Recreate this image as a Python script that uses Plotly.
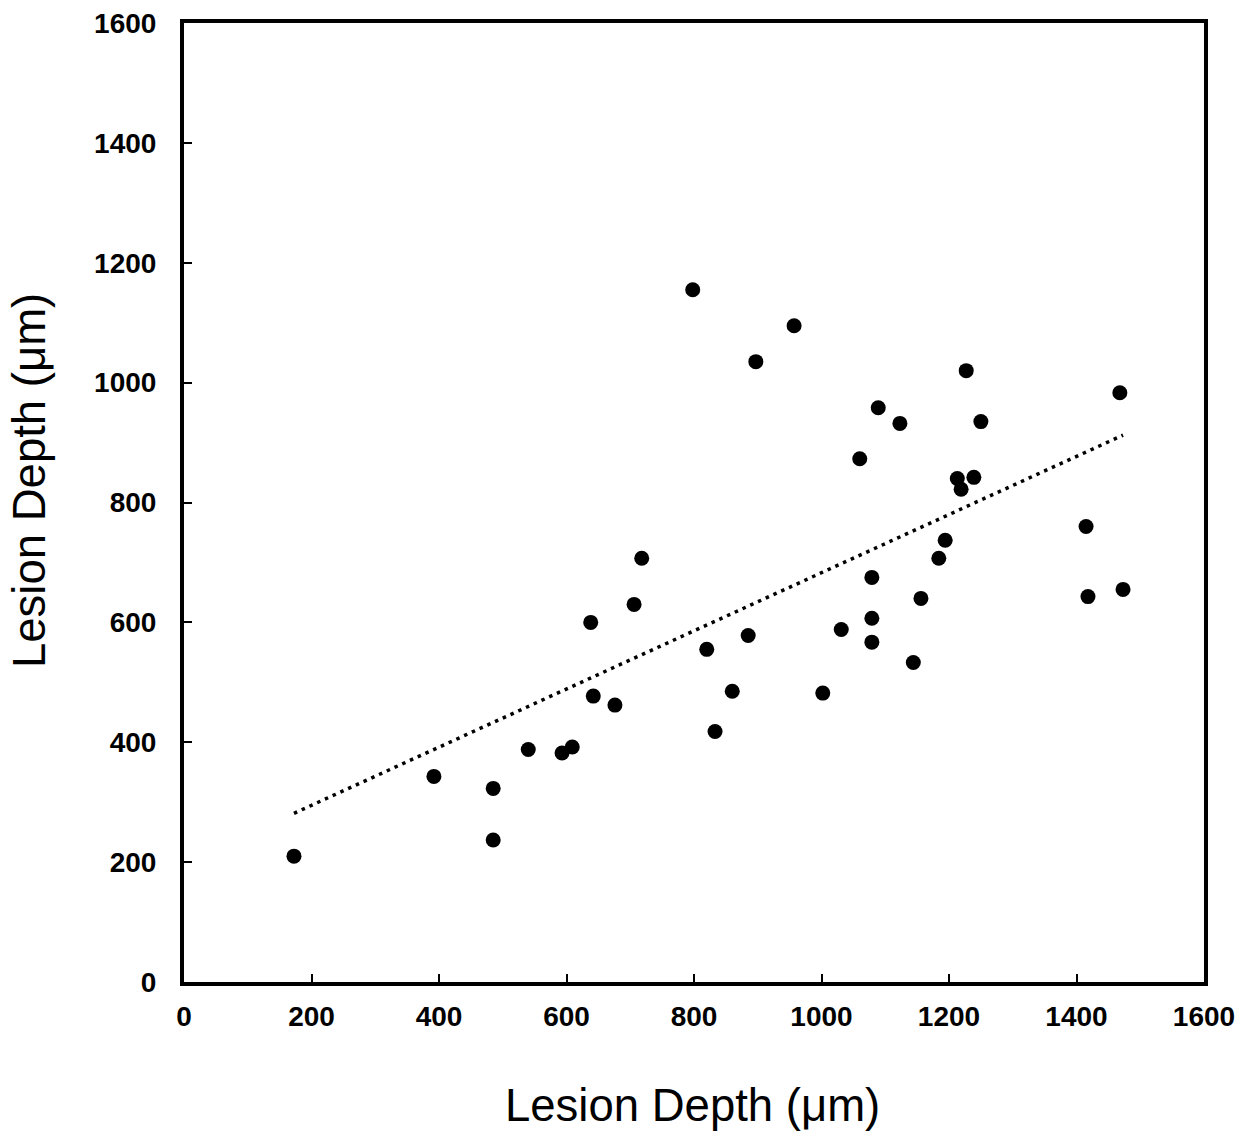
import numpy as np
import plotly.graph_objects as go

x_vals = [172.5, 392, 485, 485, 540, 593, 609, 638, 642, 676, 706, 718, 798, 820, 833,
          860, 885, 897, 957, 1002, 1031, 1060, 1079, 1079, 1079, 1089, 1123, 1144, 1156,
          1184, 1194, 1213, 1219, 1227, 1239, 1250, 1415, 1418, 1468, 1473]
y_vals = [210, 343, 323, 237, 388, 382, 392, 600, 477, 462, 630, 707, 1155, 555, 418,
          485, 578, 1035, 1095, 482, 588, 873, 675, 607, 567, 958, 932, 533, 640,
          707, 737, 840, 822, 1020, 842, 935, 760, 643, 983, 655]
tick_vals = [0, 200, 400, 600, 800, 1000, 1200, 1400, 1600]
axis_title = "Lesion Depth (μm)"

slope, intercept = np.polyfit(x_vals, y_vals, 1)
tx = [min(x_vals), max(x_vals)]
ty = [slope * v + intercept for v in tx]

fig = go.Figure()
fig.add_trace(go.Scatter(x=tx, y=ty, mode="lines",
                         line=dict(color="black", width=3.5, dash="3.5px,5px"),
                         showlegend=False, hoverinfo="skip"))
fig.add_trace(go.Scatter(x=x_vals, y=y_vals, mode="markers",
                         marker=dict(color="black", size=15),
                         showlegend=False))

axis_common = dict(
    range=[0, 1600], tickvals=tick_vals, ticks="inside", ticklen=8, tickwidth=1.5,
    tickcolor="black", showline=True, linewidth=4, linecolor="black", mirror=True,
    showgrid=False, zeroline=False, automargin=False, ticklabeloverflow="allow",
    tickfont=dict(family="Liberation Sans", size=28, color="black", weight="bold"),
)

# page has an 8px body margin; figure is sized to fit the window
OFF = 8
W, H = 1249 - OFF, 1136 - OFF
L, T = 184 - OFF, 23 - OFF
R = W - (1204 - OFF)
B = H - (982 - OFF)
pw, ph = W - L - R, H - T - B

fig.update_layout(
    width=W, height=H,
    margin=dict(l=L, r=R, t=T, b=B),
    plot_bgcolor="white", paper_bgcolor="white",
    xaxis=dict(**axis_common, ticklabelstandoff=6),
    yaxis=dict(**axis_common, ticklabelstandoff=18),
)

title_font = dict(family="Liberation Sans", size=45.5, color="black")
fig.add_annotation(text=axis_title, xref="paper", yref="paper",
                   x=(692 - OFF - L) / pw, y=(H - B - (1105 - OFF)) / ph,
                   xanchor="center", yanchor="middle", showarrow=False, font=title_font)
fig.add_annotation(text=axis_title, xref="paper", yref="paper", textangle=-90,
                   x=(29 - OFF - L) / pw, y=(H - B - (481 - OFF)) / ph,
                   xanchor="center", yanchor="middle", showarrow=False, font=title_font)

fig.write_html("out.html")
